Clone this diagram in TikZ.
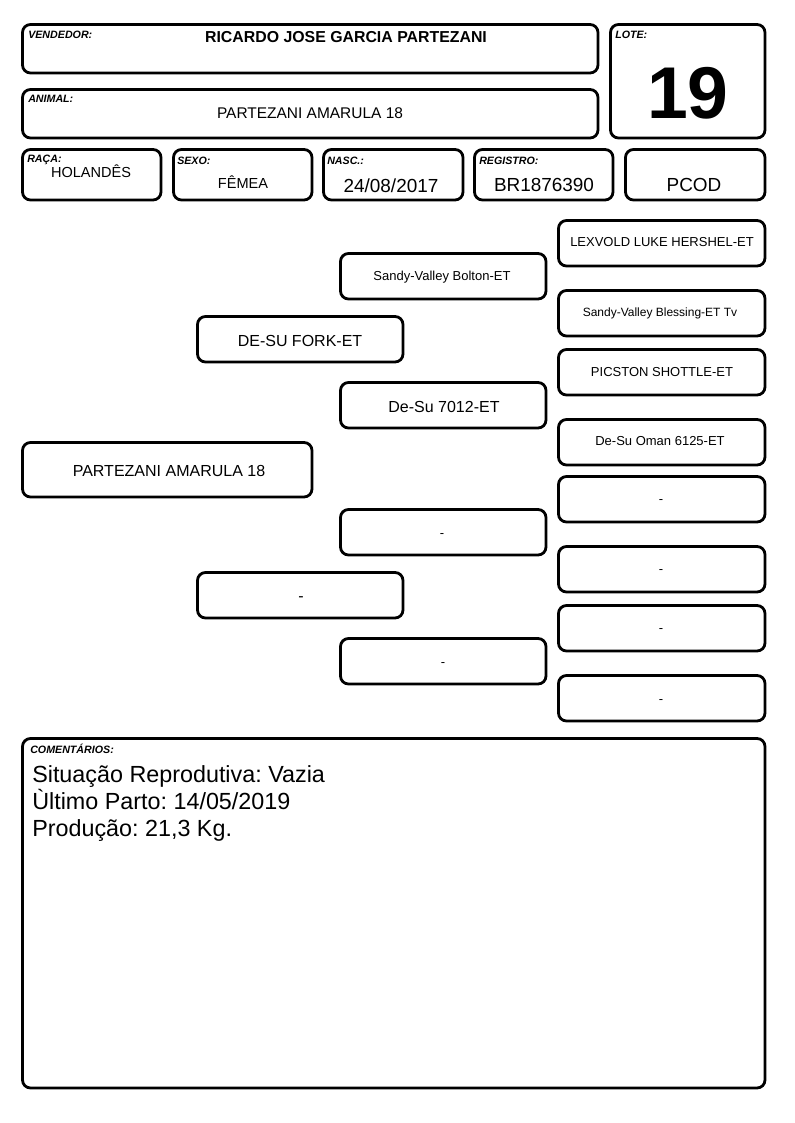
\documentclass[tikz,border=0pt]{standalone}
\usepackage{fontspec}
\setmainfont{Liberation Sans}
\usetikzlibrary{fit}
\frenchspacing
\tikzset{
  box/.style={draw, line width=2.1pt, rounded corners=6pt, inner sep=0pt},
  lbl/.style={anchor=base west, inner sep=0pt, font=\bfseries\itshape\fontsize{8}{9}\selectfont},
  val/.style={anchor=base, inner sep=0pt},
  pn/.style={anchor=base, inner sep=0pt, font=\fontsize{9.75}{11}\selectfont},
  pb/.style={anchor=base, inner sep=0pt, font=\fontsize{12}{14}\selectfont},
}
\begin{document}
\frenchspacing
\begin{tikzpicture}[x=0.75pt,y=-0.75pt]
\useasboundingbox (0,0) rectangle (794,1123);
% header boxes
\node[box, fit={(22.5,24.5)(598,73)}] (vend) {};
\node[lbl] (vendl) at (28,39) {VENDEDOR:};
\node[val, font=\bfseries\fontsize{11.9}{14}\selectfont] (vendv) at (346,43) {RICARDO JOSE GARCIA PARTEZANI};
\node[box, fit={(22.5,89.5)(598,138)}] (anim) {};
\node[lbl] (animl) at (28,103) {ANIMAL:};
\node[val, font=\fontsize{11.6}{14}\selectfont] (animv) at (310,119) {PARTEZANI AMARULA 18};
\node[box, fit={(610.5,24.5)(765,138)}] (lote) {};
\node[lbl] (lotel) at (615,39) {LOTE:};
\node[val, font=\bfseries\fontsize{55}{60}\selectfont] (lotev) at (688,119) {19};
% info row
\node[box, fit={(22.5,149.5)(161,200)}] (raca) {};
\node[lbl] (racal) at (27,163) {RAÇA:};
\node[val, font=\fontsize{10.9}{13}\selectfont] (racav) at (91,178) {HOLANDÊS};
\node[box, fit={(173.5,149.5)(312,200)}] (sexo) {};
\node[lbl] (sexol) at (177,165) {SEXO:};
\node[val, font=\fontsize{10.9}{13}\selectfont] (sexov) at (243,189) {FÊMEA};
\node[box, fit={(323.5,149.5)(463,200)}] (nasc) {};
\node[lbl] (nascl) at (327,165) {NASC.:};
\node[val, font=\fontsize{14.2}{16}\selectfont] (nascv) at (391,193) {24/08/2017};
\node[box, fit={(474.5,149.5)(613,200)}] (reg) {};
\node[lbl] (regl) at (479,165) {REGISTRO:};
\node[val, font=\fontsize{14.2}{16}\selectfont] (regv) at (544,192) {BR1876390};
\node[box, fit={(625.5,149.5)(765,200)}] (pcod) {};
\node[val, font=\fontsize{14.2}{16}\selectfont] (pcodv) at (694,192) {PCOD};
% pedigree
\node[box, fit={(22.5,442.5)(312,497)}] (p0) {};
\node[pb] (p0t) at (169,476) {PARTEZANI AMARULA 18};
\node[box, fit={(197.5,316.5)(403,362)}] (s) {};
\node[pb] (st) at (300,346) {DE-SU FORK-ET};
\node[box, fit={(197.5,572.5)(403,618)}] (d) {};
\node[pb] (dt) at (301,601) {-};
\node[box, fit={(340.5,253.5)(546,299)}] (ss) {};
\node[pn] (sst) at (442,280) {Sandy-Valley Bolton-ET};
\node[box, fit={(340.5,382.5)(546,428)}] (sd) {};
\node[pb] (sdt) at (444,412) {De-Su 7012-ET};
\node[box, fit={(340.5,509.5)(546,555)}] (ds) {};
\node[pn] (dst) at (442,537) {-};
\node[box, fit={(340.5,638.5)(546,684)}] (dd) {};
\node[pn] (ddt) at (443,666) {-};
\node[box, fit={(558.5,220.5)(765,266)}] (sss) {};
\node[pn] (ssst) at (662,247) {LEXVOLD LUKE HERSHEL-ET};
\node[box, fit={(558.5,290.5)(765,336)}] (ssd) {};
\node[pn, font=\fontsize{9}{11}\selectfont] (ssdt) at (660,316) {Sandy-Valley Blessing-ET Tv};
\node[box, fit={(558.5,349.5)(765,395)}] (sds) {};
\node[pn] (sdst) at (662,376) {PICSTON SHOTTLE-ET};
\node[box, fit={(558.5,419.5)(765,465)}] (sdd) {};
\node[pn] (sddt) at (660,445) {De-Su Oman 6125-ET};
\node[box, fit={(558.5,476.5)(765,522)}] (dss) {};
\node[pn] (dsst) at (661,503) {-};
\node[box, fit={(558.5,546.5)(765,592)}] (dsd) {};
\node[pn] (dsdt) at (661,573) {-};
\node[box, fit={(558.5,605.5)(765,651)}] (dds) {};
\node[pn] (ddst) at (661,632) {-};
\node[box, fit={(558.5,675.5)(765,721)}] (ddd) {};
\node[pn] (dddt) at (661,703) {-};
% comments
\node[box, fit={(22.5,738.5)(765,1088)}] (com) {};
\node[lbl] (coml) at (30,753) {COMENTÁRIOS:};
\node[anchor=north west, inner sep=0pt, align=left, font=\fontsize{17.5}{20.25}\selectfont] (comt) at (32,765) {Situação Reprodutiva: Vazia\\Ùltimo Parto: 14/05/2019\\Produção: 21,3 Kg.};
\end{tikzpicture}
\end{document}
